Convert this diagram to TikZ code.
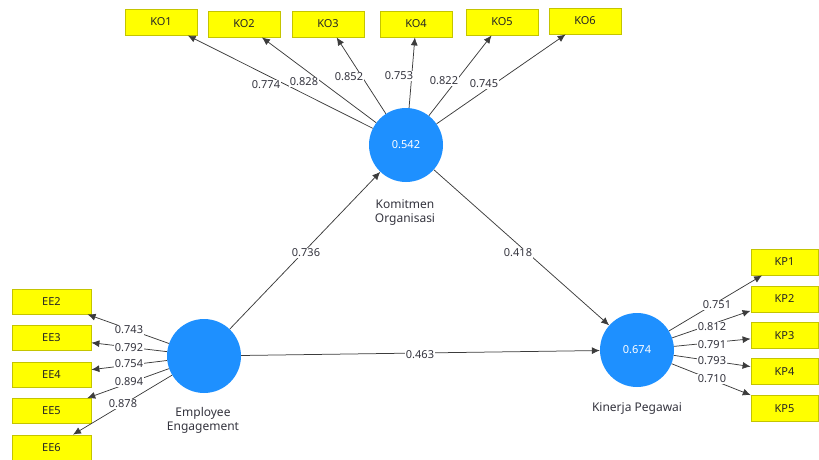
\documentclass[tikz,border=0pt]{standalone}
\usepackage{fontspec}
\setmainfont{Noto Sans}
\usetikzlibrary{arrows.meta}
\definecolor{latentblue}{HTML}{1E90FF}
\definecolor{indfill}{HTML}{FFFF00}
\definecolor{indedge}{HTML}{C4C400}
\definecolor{edgegray}{HTML}{3C3C3C}
\definecolor{labeltext}{HTML}{34343E}
\begin{document}
\begin{tikzpicture}[x=1pt,y=-1pt,
  latent/.style={circle,fill=latentblue,minimum size=74pt,inner sep=0pt,
    text=white,font=\fontsize{11}{13}\selectfont},
  indicator/.style={draw=indedge,fill=indfill,line width=0.8pt,inner sep=0pt,
    minimum height=26pt,text=black!85,font=\fontsize{11}{13}\selectfont},
  koind/.style={indicator,minimum width=72pt},
  eeind/.style={indicator,minimum width=79pt,minimum height=25pt},
  kpind/.style={indicator,minimum width=67pt},
  loading/.style={fill=white,inner sep=0.6pt,text=labeltext,
    font=\fontsize{11}{13}\selectfont},
  caption/.style={align=center,text=labeltext,inner sep=0pt,
    font=\fontsize{12}{14}\selectfont},
  link/.style={draw=edgegray,line width=0.75pt,
    -{Latex[length=8pt,width=7pt]}}]
\useasboundingbox (0,0) rectangle (819,459);

% latent variables
\node[latent] (ko) at (406,145) {0.542};
\node[latent] (ee) at (204,356) {};
\node[latent] (kp) at (637,350) {0.674};

\node[caption] (kocap) at (405,213) {Komitmen\\Organisasi};
\node[caption] (eecap) at (203,420) {Employee\\Engagement};
\node[caption] (kpcap) at (637,409) {Kinerja Pegawai};

% indicators of Komitmen Organisasi
\node[koind] (ko1) at (161,22) {KO1};
\node[koind] (ko2) at (244,24) {KO2};
\node[koind] (ko3) at (328,24) {KO3};
\node[koind] (ko4) at (416,24) {KO4};
\node[koind] (ko5) at (502,22) {KO5};
\node[koind] (ko6) at (585,21) {KO6};

% indicators of Employee Engagement
\node[eeind] (ee2) at (51.5,301.5) {EE2};
\node[eeind] (ee3) at (51.5,338) {EE3};
\node[eeind] (ee4) at (51.5,374.5) {EE4};
\node[eeind] (ee5) at (51.5,411) {EE5};
\node[eeind] (ee6) at (51.5,447.5) {EE6};

% indicators of Kinerja Pegawai
\node[kpind] (kp1) at (784.5,262) {KP1};
\node[kpind] (kp2) at (784.5,299) {KP2};
\node[kpind] (kp3) at (784.5,335.5) {KP3};
\node[kpind] (kp4) at (784.5,371.5) {KP4};
\node[kpind] (kp5) at (784.5,408.5) {KP5};

% outer loadings
\foreach \i in {1,...,6} \draw[link] (ko) -- (ko\i);
\foreach \i in {2,...,6} \draw[link] (ee) -- (ee\i);
\foreach \i in {1,...,5} \draw[link] (kp) -- (kp\i);

% path coefficients
\draw[link] (ee) -- (ko);
\draw[link] (ko) -- (kp);
\draw[link] (ee) -- (kp);

% loading values
\node[loading] (lko1) at (266,85) {0.774};
\node[loading] (lko2) at (304,82) {0.828};
\node[loading] (lko3) at (349,77) {0.852};
\node[loading] (lko4) at (399,76) {0.753};
\node[loading] (lko5) at (444,81) {0.822};
\node[loading] (lko6) at (484,84) {0.745};

\node[loading] (lee2) at (129,330) {0.743};
\node[loading] (lee3) at (129,348) {0.792};
\node[loading] (lee4) at (129,364) {0.754};
\node[loading] (lee5) at (129,382) {0.894};
\node[loading] (lee6) at (123,404) {0.878};

\node[loading] (lkp1) at (717,305) {0.751};
\node[loading] (lkp2) at (712,327) {0.812};
\node[loading] (lkp3) at (712,345) {0.791};
\node[loading] (lkp4) at (712,361) {0.793};
\node[loading] (lkp5) at (712,379) {0.710};

% path coefficient values
\node[loading] (pek) at (306,253) {0.736};
\node[loading] (pkk) at (518,253) {0.418};
\node[loading] (pep) at (420,355) {0.463};
\end{tikzpicture}
\end{document}
